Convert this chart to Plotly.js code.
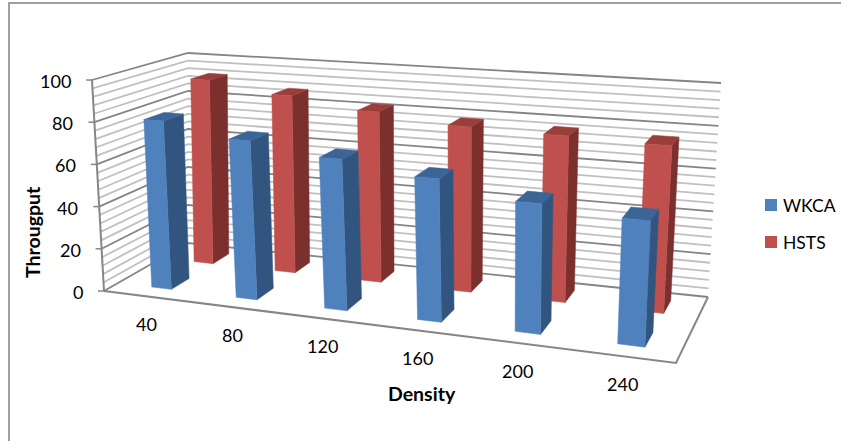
<!DOCTYPE html>
<html><head><meta charset="utf-8">
<script src="https://cdn.plot.ly/plotly-3.0.1.min.js"></script>
<style>html,body{margin:0;padding:0;background:#fff}#c{width:841px;height:441px}</style></head>
<body><div id="c"></div>
<script>
const categories=['40','80','120','160','200','240'];
const wkca=[80,74,69,64,57,54];
const hsts=[92,87,82,78,77,76];
const yTicks=[0,20,40,60,80,100];
const minorTicks=[4,8,12,16,24,28,32,36,44,48,52,56,64,68,72,76,84,88,92,96];
const seriesNames=['WKCA','HSTS'];
const frontColors=['#4f81bd','#c0504d'];
const sideColors=['#31557f','#7c302e'];
const topColors=['#3b6597','#9a3e3b'];
// view of the unit box on the page: corners of the floor and the ceiling [front-left, front-right, back-right, back-left]
const floorCorners=[[104,291],[676,363],[708,297],[188,243]];
const topCorners=[[92,80],[690,123],[721,83],[188,53]];
function homography(q){
 const [p0,p1,p2,p3]=q,dx1=p1[0]-p2[0],dx2=p3[0]-p2[0],sx=p0[0]-p1[0]+p2[0]-p3[0],dy1=p1[1]-p2[1],dy2=p3[1]-p2[1],sy=p0[1]-p1[1]+p2[1]-p3[1];
 const den=dx1*dy2-dx2*dy1,g=(sx*dy2-dx2*sy)/den,h=(dx1*sy-sx*dy1)/den;
 const a=p1[0]-p0[0]+g*p1[0],b=p3[0]-p0[0]+h*p3[0],d=p1[1]-p0[1]+g*p1[1],e=p3[1]-p0[1]+h*p3[1];
 return (u,v)=>{const w=g*u+h*v+1;return [(a*u+b*v+p0[0])/w,(d*u+e*v+p0[1])/w];};
}
const F=homography(floorCorners),T=homography(topCorners);
function P(u,v,val){const t=val/100,f=F(u,v),c=T(u,v);return [f[0]*(1-t)+c[0]*t,f[1]*(1-t)+c[1]*t];}
const barW=0.041,barOff=0.005,depth=[[0.155,0.365],[0.665,0.875]];
const slot=i=>{const c=(i+.5)/6;return c+0.05*c*(1-c);};
function polys(list,color){
 const x=[],y=[];list.forEach(q=>{q.forEach(p=>{x.push(p[0]);y.push(p[1]);});x.push(q[0][0],null);y.push(q[0][1],null);});
 return {type:'scatter',mode:'lines',x,y,fill:'toself',fillcolor:color,line:{width:0.5,color},hoverinfo:'skip',showlegend:false};
}
function lines(segs,color,width){
 const x=[],y=[];segs.forEach(s=>{s.forEach(p=>{x.push(p[0]);y.push(p[1]);});x.push(null);y.push(null);});
 return {type:'scatter',mode:'lines',x,y,line:{color,width},hoverinfo:'skip',showlegend:false};
}
const wall=v=>[P(0,0,v),P(0,1,v),P(1,1,v)];
const traces=[lines(minorTicks.map(wall),'#c0c0c0',1.8),lines(yTicks.map(wall),'#858585',1.8),
 lines([[P(0,0,0),P(1,0,0),P(1,1,0)],[P(0,0,0),P(0,0,100)]],'#868686',2),
 lines(yTicks.map(v=>{const p=P(0,0,v);return [[p[0]-6,p[1]],p];}),'#868686',1.5)];
[hsts,wkca].forEach((vals,k)=>{
 const s=k===0?1:0,[v0,v1]=depth[s],side=[],top=[],front=[];
 vals.forEach((val,i)=>{
  const u0=slot(i)+barOff-barW/2,u1=u0+barW;
  side.push([P(u1,v0,0),P(u1,v1,0),P(u1,v1,val),P(u1,v0,val)]);
  top.push([P(u0,v0,val),P(u1,v0,val),P(u1,v1,val),P(u0,v1,val)]);
  front.push([P(u0,v0,0),P(u1,v0,0),P(u1,v0,val),P(u0,v0,val)]);
 });
 traces.push(polys(side,sideColors[s]),polys(top,topColors[s]),polys(front,frontColors[s]));
});
const legendX=771,legendY=[205,242];
traces.push({type:'scatter',mode:'markers',x:seriesNames.map(()=>legendX),y:legendY,
 marker:{symbol:'square',size:12,color:frontColors,line:{width:0}},hoverinfo:'skip',showlegend:false,cliponaxis:false});
const annotations=[];
seriesNames.forEach((n,i)=>annotations.push({x:legendX+12,y:legendY[i],text:n,xref:'x',yref:'y',showarrow:false,xanchor:'left',xshift:-2,font:{size:17.5}}));
yTicks.forEach(v=>{const p=P(0,0,v);annotations.push({x:p[0],y:p[1],text:String(v),xref:'x',yref:'y',showarrow:false,xanchor:'right',xshift:-19,yshift:-1,font:{size:18}});});
categories.forEach((c,i)=>{const p=P(slot(i),0,0);annotations.push({x:p[0],y:p[1],text:c,xref:'x',yref:'y',showarrow:false,xshift:1,yshift:-28,font:{size:18}});});
annotations.push({x:32,y:232,xref:'x',yref:'y',text:'<b>Througput</b>',textangle:-90,showarrow:false,font:{size:19.5}});
annotations.push({x:422,y:393,xref:'x',yref:'y',text:'<b>Density</b>',showarrow:false,font:{size:19.5}});
const layout={width:841,height:441,margin:{l:0,r:0,t:0,b:0,autoexpand:false},paper_bgcolor:'#fff',plot_bgcolor:'#fff',showlegend:false,
 font:{family:'Lato, sans-serif',size:18,color:'#000'},
 xaxis:{visible:false,range:[0,841],fixedrange:true},yaxis:{visible:false,range:[441,0],fixedrange:true},
 annotations,
 shapes:[{type:'line',xref:'x',yref:'y',x0:9,x1:9,y0:3,y1:441,line:{color:'#a0a0a0',width:2}},{type:'line',xref:'x',yref:'y',x0:8,x1:841,y0:3,y1:3,line:{color:'#a0a0a0',width:2}}]
};
Plotly.newPlot('c',traces,layout,{displayModeBar:false});
</script></body></html>
